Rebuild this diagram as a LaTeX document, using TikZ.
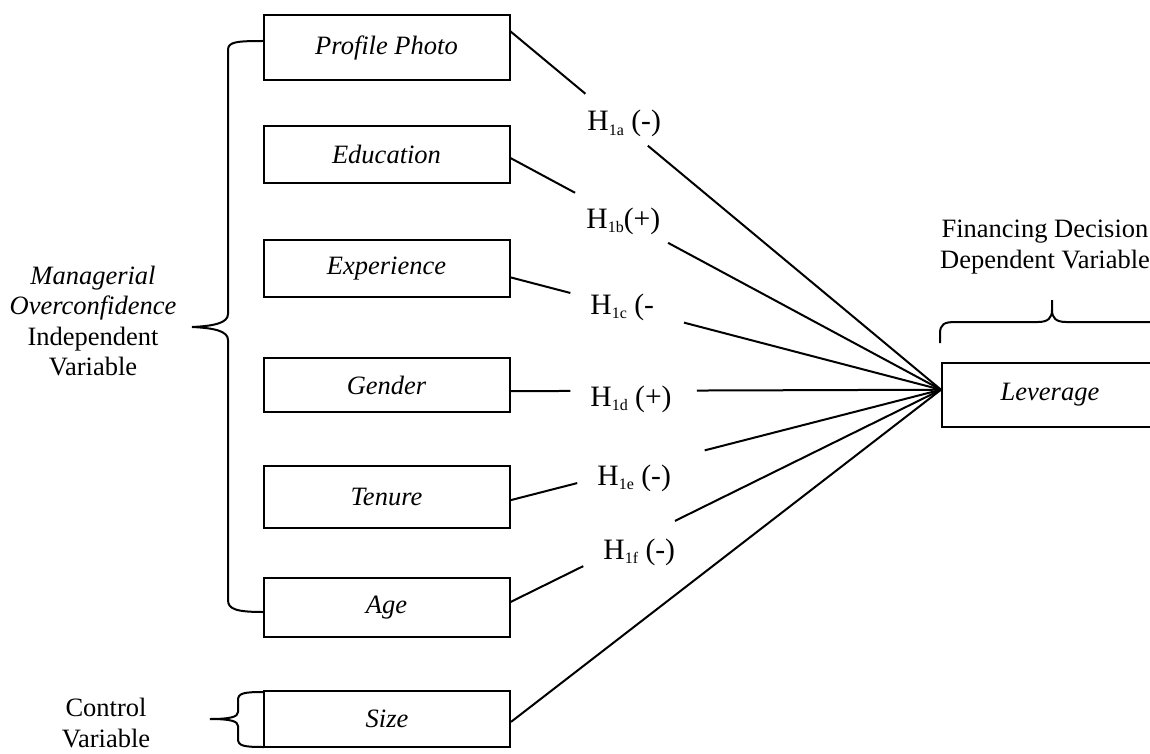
\documentclass[tikz,border=0pt]{standalone}
\usepackage{fontspec}
\setmainfont{Liberation Serif}
\usetikzlibrary{calc}
\begin{document}
\begin{tikzpicture}[x=0.5pt,y=-0.5pt,
  box/.style={draw, line width=1pt, inner sep=0pt, minimum width=123pt,
              font=\fontsize{13.25}{15.3}\selectfont\itshape},
  hyp/.style={font=\fontsize{14.8}{16}\selectfont, inner sep=0pt, anchor=base west},
  link/.style={line width=1pt},
  brace/.style={line width=1pt},
  lbl/.style={align=center, inner sep=0pt, font=\fontsize{13.25}{15.3}\selectfont}]
\newcommand{\hsub}[1]{\raisebox{-2.2pt}{\fontsize{8}{9}\selectfont #1}}
\useasboundingbox (0,0) rectangle (1150,754);
\clip (0,0) rectangle (1150,754);

% boxes
\node[box, minimum height=32.5pt] (pp) at (386.5,47.5) {Profile Photo};
\node[box, minimum height=28.5pt] (ed) at (386.5,154.5) {Education};
\node[box, minimum height=28.5pt] (ex) at (386.5,268.5) {Experience};
\node[box, minimum height=27pt]   (ge) at (386.5,385) {Gender};
\node[box, minimum height=31pt]   (te) at (386.5,497) {Tenure};
\node[box, minimum height=29.5pt] (ag) at (386.5,607.5) {Age};
\node[box, minimum height=28pt]   (sz) at (387,719) {Size};
\node[box, minimum width=108pt, minimum height=32pt] (lev) at (1050,395) {Leverage};

% hypothesis labels
\node[hyp] (ha) at (587,131) {H\hsub{1a} (-)};
\node[hyp] (hb) at (586,228) {H\hsub{1b}(+)};
\node[hyp] (hc) at (590,314) {H\hsub{1c} (-};
\node[hyp] (hd) at (590,406) {H\hsub{1d} (+)};
\node[hyp] (he) at (597,485) {H\hsub{1e} (-)};
\node[hyp] (hf) at (603,559) {H\hsub{1f} (-)};

% connectors
\coordinate (cv) at ($(lev.north west)!0.42!(lev.south west)$);
\coordinate (a0) at ($(pp.north east)!0.26!(pp.south east)$);
\coordinate (b0) at ($(ed.north east)!0.56!(ed.south east)$);
\coordinate (c0) at ($(ex.north east)!0.65!(ex.south east)$);
\coordinate (d0) at ($(ge.north east)!0.61!(ge.south east)$);
\coordinate (e0) at ($(te.north east)!0.55!(te.south east)$);
\coordinate (f0) at ($(ag.north east)!0.41!(ag.south east)$);
\coordinate (g0) at ($(sz.north east)!0.55!(sz.south east)$);

\draw[link] (a0) -- ($(a0)!0.174!(cv)$);
\draw[link] ($(a0)!0.319!(cv)$) -- (cv);
\draw[link] (b0) -- ($(b0)!0.150!(cv)$);
\draw[link] ($(b0)!0.366!(cv)$) -- (cv);
\draw[link] (c0) -- ($(c0)!0.139!(cv)$);
\draw[link] ($(c0)!0.403!(cv)$) -- (cv);
\draw[link] (d0) -- ($(d0)!0.139!(cv)$);
\draw[link] ($(d0)!0.433!(cv)$) -- (cv);
\draw[link] (e0) -- ($(e0)!0.155!(cv)$);
\draw[link] ($(e0)!0.451!(cv)$) -- (cv);
\draw[link] (f0) -- ($(f0)!0.169!(cv)$);
\draw[link] ($(f0)!0.382!(cv)$) -- (cv);
\draw[link] (g0) -- (cv);

% braces
\draw[brace] (263,41) .. controls (236,41) and (228,42) .. (228,50) -- (228,314)
  .. controls (228,323) and (214,326) .. (192,327)
  .. controls (214,328) and (228,331) .. (228,340) -- (228,600)
  .. controls (228,609) and (236,612) .. (263,612);
\draw[brace] (264,692) .. controls (244,692) and (238,693) .. (238,700) -- (238,712)
  .. controls (238,717) and (230,719) .. (210,719)
  .. controls (230,719) and (238,721) .. (238,726) -- (238,739)
  .. controls (238,746) and (244,747) .. (264,747);
\draw[brace] (940,343) -- (940,334) .. controls (940,324) and (944,322) .. (956,322)
  -- (1038,322) .. controls (1048,322) and (1052,318) .. (1052,310) -- (1052,300);
\draw[brace] (1052,310) .. controls (1052,318) and (1056,322) .. (1066,322) -- (1170,322);

% group labels
\node[lbl] (mo) at (93,321) {\textit{Managerial}\\\textit{Overconfidence}\\Independent\\Variable};
\node[lbl] (cvar) at (106,723) {Control\\Variable};
\node[lbl] (fd) at (1045,247) {Financing Decision\\Dependent Variable};
\end{tikzpicture}
\end{document}
